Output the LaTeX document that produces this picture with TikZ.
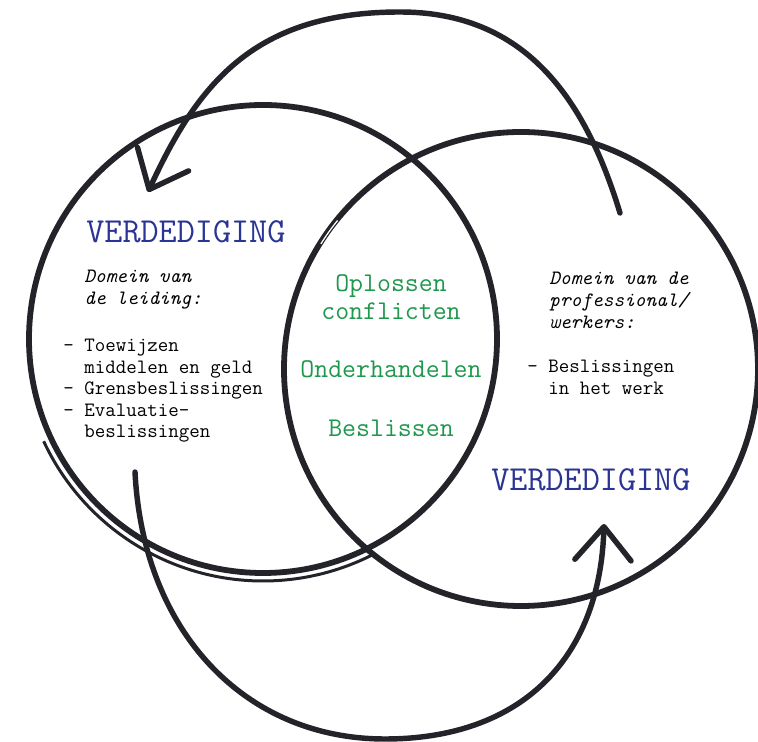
\documentclass[tikz,border=0pt]{standalone}
\usepackage{fontspec}
\usetikzlibrary{arrows.meta}

\definecolor{ink}{RGB}{35,35,42}
\definecolor{defblue}{RGB}{42,52,148}
\definecolor{talkgreen}{RGB}{30,152,76}

\begin{document}
\begin{tikzpicture}[x=0.02cm, y=-0.02cm,
    ring/.style={line width=3.3pt, draw=ink},
    cyclearc/.style={line width=3.1pt, draw=ink, line cap=round, line join=round,
        -{Straight Barb[length=19pt, width=32pt, round]}},
    defence/.style={font=\ttfamily\fontsize{20}{24}\selectfont, text=defblue, inner sep=0pt, anchor=base west},
    note/.style={font=\ttfamily\fontsize{11.6}{14}\selectfont, inner sep=0pt, anchor=base west},
    domaintext/.style={note, font=\ttfamily\itshape\fontsize{11.6}{14}\selectfont},
    talk/.style={font=\ttfamily\fontsize{15.4}{18}\selectfont, text=talkgreen, inner sep=0pt, anchor=base}
  ]
  \useasboundingbox (0,0) rectangle (758,742);

  % the two domains
  \coordinate (lc) at (263,339);
  \coordinate (rc) at (521,369);
  \draw[ring] (lc) circle[radius=234];
  \draw[ring] (rc) circle[radius=237];

  % second pencil line under the left circle
  \draw[line width=1.7pt, draw=ink] ([shift={(155:242)}]lc) arc[start angle=155, end angle=63, radius=242];
  % small slit in the right circle
  \draw[line width=0.7pt, white] ([shift={(212:236)}]rc) arc[start angle=212, end angle=219, radius=236];

  % arrows going round
  \coordinate (top from) at (620,213);
  \coordinate (top mid) at (400,12);
  \coordinate (top to) at (148,192);
  \draw[cyclearc] (top from) .. controls (585,98) and (525,12) .. (top mid)
      .. controls (255,12) and (198,83) .. (top to);

  \coordinate (bot from) at (135,472);
  \coordinate (bot mid) at (385,739);
  \coordinate (bot to) at (604,524);
  \draw[cyclearc] (bot from) .. controls (143,632) and (245,739) .. (bot mid)
      .. controls (520,739) and (600,660) .. (bot to);

  % headings
  \node[defence] (def-left) at (86,243) {VERDEDIGING};
  \node[defence] (def-right) at (491,491) {VERDEDIGING};

  % left domain
  \foreach \line [count=\i from 0] in {{Domein van}, {de leiding:}}
    \node[domaintext] (dom-left-\i) at (84,283+22*\i) {\line};
  \foreach \line [count=\i from 0] in {{- Toewijzen}, {\phantom{- }middelen en geld},
      {- Grensbeslissingen}, {- Evaluatie-}, {\phantom{- }beslissingen}}
    \node[note] (list-left-\i) at (63,352+21.5*\i) {\line};

  % right domain
  \foreach \line [count=\i from 0] in {{Domein van de}, {professional/}, {werkers:}}
    \node[domaintext] (dom-right-\i) at (549,285+22*\i) {\line};
  \foreach \line [count=\i from 0] in {{- Beslissingen}, {\phantom{- }in het werk}}
    \node[note] (list-right-\i) at (527,373+22*\i) {\line};

  % shared part
  \node[talk] (oplossen) at (391,292) {Oplossen};
  \node[talk] (conflicten) at (391,320) {conflicten};
  \node[talk] (onderhandelen) at (391,378) {Onderhandelen};
  \node[talk] (beslissen) at (391,437) {Beslissen};
\end{tikzpicture}
\end{document}
